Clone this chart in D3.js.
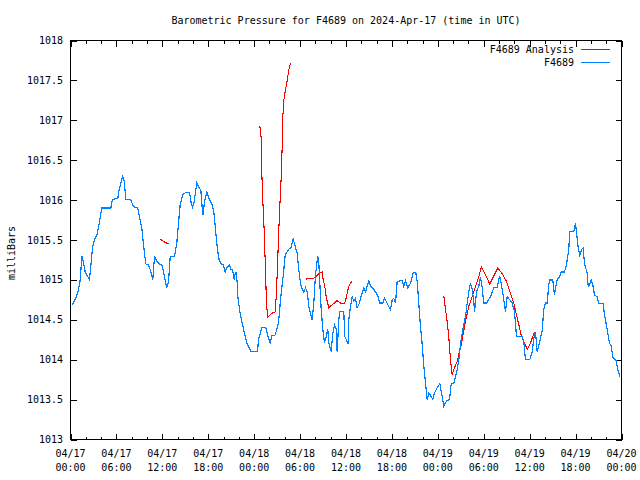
<!DOCTYPE html>
<html><head><meta charset="utf-8">
<script src="https://cdn.jsdelivr.net/npm/d3@7"></script>
<style>
body{margin:0;background:#fff}
svg{display:block}
text{font-family:"DejaVu Sans Mono",monospace;font-size:10px;fill:#000}
</style>
</head><body><svg width="640" height="480"></svg>
<script>
const title = "Barometric Pressure for F4689 on 2024-Apr-17 (time in UTC)";
const yLabel = "milliBars";
const seriesNames = ["F4689 Analysis", "F4689"];
const yTicks = [1013, 1013.5, 1014, 1014.5, 1015, 1015.5, 1016, 1016.5, 1017, 1017.5, 1018];
const xTickHours = [0, 6, 12, 18, 24, 30, 36, 42, 48, 54, 60, 66, 72];
const xTickDates = ["04/17","04/17","04/17","04/17","04/18","04/18","04/18","04/18","04/19","04/19","04/19","04/19","04/20"];
const xTickTimes = ["00:00","06:00","12:00","18:00","00:00","06:00","12:00","18:00","00:00","06:00","12:00","18:00","00:00"];

// [hours since 2024-04-17 00:00 UTC, pressure mb]
const station = [
[0.26,1014.69],[0.69,1014.77],[1.05,1014.88],[1.27,1015.00],[1.48,1015.30],[1.66,1015.23],[1.92,1015.10],[2.26,1015.04],[2.48,1015.00],[2.65,1015.17],
[2.87,1015.40],[3.14,1015.51],[3.44,1015.56],[3.75,1015.71],[4.09,1015.90],[5.27,1015.90],[5.49,1016.01],[6.18,1016.02],[6.36,1016.13],[6.62,1016.23],
[6.83,1016.30],[7.02,1016.23],[7.23,1016.01],[7.84,1016.01],[8.23,1015.92],[8.79,1015.90],[9.02,1015.79],[9.32,1015.65],[9.54,1015.44],[9.84,1015.20],
[10.19,1015.19],[10.41,1015.13],[10.75,1015.00],[10.98,1015.30],[11.28,1015.23],[11.59,1015.20],[11.93,1015.19],[12.15,1015.11],[12.37,1014.99],[12.58,1014.90],
[12.81,1014.98],[13.03,1015.29],[13.59,1015.30],[13.89,1015.46],[14.11,1015.71],[14.33,1015.94],[14.63,1016.06],[15.07,1016.10],[15.55,1016.10],[15.77,1015.96],
[15.94,1015.91],[16.16,1015.98],[16.50,1016.21],[16.82,1016.15],[17.03,1016.13],[17.16,1015.96],[17.29,1015.81],[17.51,1015.98],[17.81,1016.10],[18.03,1016.04],
[18.33,1015.97],[18.55,1015.94],[18.78,1015.81],[18.99,1015.58],[19.25,1015.35],[19.43,1015.25],[19.77,1015.19],[19.99,1015.19],[20.21,1015.10],[20.42,1015.15],
[20.78,1015.19],[20.95,1015.13],[21.17,1015.13],[21.39,1015.00],[21.52,1015.08],[21.65,1015.09],[21.78,1014.96],[21.86,1014.79],[22.17,1014.58],[22.61,1014.38],
[23.04,1014.21],[23.61,1014.10],[24.43,1014.10],[24.57,1014.25],[24.79,1014.33],[25.00,1014.40],[25.52,1014.40],[25.87,1014.27],[26.09,1014.21],[26.30,1014.30],
[26.75,1014.31],[27.18,1014.46],[27.48,1014.79],[27.83,1015.08],[28.05,1015.31],[28.49,1015.38],[28.84,1015.41],[29.10,1015.51],[29.31,1015.44],[29.62,1015.33],
[29.83,1015.13],[30.05,1014.96],[30.28,1014.88],[30.48,1014.85],[30.71,1014.90],[30.93,1014.85],[31.14,1014.67],[31.36,1014.58],[31.58,1014.50],[31.79,1014.71],
[32.01,1015.06],[32.31,1015.30],[32.44,1015.23],[32.58,1014.96],[32.76,1014.63],[32.97,1014.38],[33.19,1014.21],[33.41,1014.29],[33.62,1014.38],[33.75,1014.21],
[34.07,1014.10],[34.27,1014.33],[34.50,1014.44],[34.72,1014.38],[34.84,1014.10],[35.06,1014.50],[35.19,1014.60],[35.71,1014.60],[35.84,1014.29],[36.29,1014.20],
[36.36,1014.50],[36.59,1014.67],[36.81,1014.79],[37.02,1014.73],[37.24,1014.77],[37.46,1014.65],[37.76,1014.71],[38.02,1014.81],[38.33,1014.90],[38.55,1014.85],
[38.77,1014.92],[38.98,1014.99],[39.20,1014.92],[39.50,1014.90],[39.85,1014.85],[40.21,1014.79],[40.38,1014.71],[40.81,1014.71],[41.03,1014.77],[41.25,1014.73],
[41.46,1014.69],[41.81,1014.63],[42.04,1014.75],[42.24,1014.77],[42.47,1014.71],[42.69,1014.98],[43.12,1014.99],[43.34,1014.99],[43.55,1014.92],[43.77,1014.99],
[44.07,1014.90],[44.43,1014.96],[44.78,1015.09],[45.12,1015.09],[45.30,1014.98],[45.51,1014.71],[45.73,1014.42],[45.96,1014.19],[46.17,1013.92],[46.39,1013.71],
[46.61,1013.50],[46.82,1013.58],[47.13,1013.54],[47.34,1013.50],[47.56,1013.58],[47.92,1013.65],[48.26,1013.70],[48.44,1013.60],[48.57,1013.54],[48.78,1013.42],
[49.13,1013.48],[49.52,1013.50],[49.75,1013.70],[50.09,1013.71],[50.31,1013.79],[50.53,1013.88],[50.74,1014.00],[50.96,1014.19],[51.18,1014.33],[51.61,1014.54],
[51.84,1014.71],[52.05,1014.85],[52.27,1014.96],[52.49,1014.88],[52.70,1014.73],[52.79,1014.60],[53.05,1014.85],[53.35,1014.92],[53.57,1015.04],[53.80,1014.90],
[54.00,1014.71],[54.36,1014.71],[54.88,1014.79],[55.31,1014.90],[55.76,1014.90],[56.06,1015.05],[56.19,1015.00],[56.41,1014.88],[56.62,1014.75],[56.84,1014.60],
[57.06,1014.79],[57.40,1014.75],[57.72,1014.71],[58.02,1014.60],[58.28,1014.29],[59.02,1014.29],[59.23,1014.23],[59.45,1014.00],[60.02,1014.00],[60.33,1014.10],
[60.54,1014.27],[60.76,1014.35],[60.98,1014.10],[61.19,1014.17],[61.41,1014.27],[61.64,1014.36],[61.84,1014.63],[62.07,1014.71],[62.29,1014.71],[62.50,1014.94],
[62.63,1015.00],[63.02,1015.00],[63.24,1014.81],[63.41,1014.92],[63.60,1015.00],[63.90,1015.04],[64.12,1015.10],[64.55,1015.10],[64.81,1015.19],[65.11,1015.38],
[65.24,1015.61],[65.77,1015.61],[65.99,1015.71],[66.12,1015.60],[66.34,1015.40],[66.55,1015.31],[66.77,1015.38],[66.99,1015.40],[67.16,1015.21],[67.52,1015.08],
[67.65,1014.92],[67.82,1014.94],[68.04,1015.00],[68.25,1014.94],[68.47,1014.81],[68.82,1014.79],[69.03,1014.70],[69.61,1014.70],[69.78,1014.56],[70.13,1014.38],
[70.43,1014.21],[70.65,1014.17],[70.91,1014.02],[71.25,1014.00],[71.51,1013.88],[71.78,1013.79]
];

const analysis1 = [[11.72,1015.51],[12.37,1015.47],[12.90,1015.45]];
const analysis2 = [
[24.74,1016.93],[24.92,1016.78],[24.96,1016.48],[25.05,1016.19],[25.18,1015.88],[25.30,1015.63],[25.48,1015.13],[25.61,1014.69],[25.78,1014.53],
[26.30,1014.58],[26.75,1014.60],[26.88,1014.79],[27.05,1015.17],[27.18,1015.54],[27.35,1015.92],[27.53,1016.29],[27.66,1016.67],[27.74,1017.04],
[27.87,1017.25],[28.09,1017.38],[28.32,1017.50],[28.52,1017.63],[28.75,1017.72]
];
const analysis3 = [
[30.79,1015.01],[31.23,1015.02],[31.79,1015.02],[32.24,1015.06],[32.67,1015.09],[32.89,1015.10],[33.02,1015.00],[33.23,1014.92],[33.41,1014.79],
[33.75,1014.65],[34.20,1014.69],[34.85,1014.74],[35.28,1014.71],[35.80,1014.70],[36.06,1014.79],[36.36,1014.92],[36.81,1014.99]
];
const analysis4 = [
[48.78,1014.80],[49.00,1014.63],[49.22,1014.48],[49.43,1014.29],[49.65,1014.00],[49.88,1013.81],[50.09,1013.88],[50.53,1013.98],[50.96,1014.15],
[51.18,1014.25],[51.61,1014.48],[51.84,1014.58],[52.05,1014.67],[52.49,1014.79],[52.92,1014.92],[53.35,1015.04],[53.70,1015.16],[54.23,1015.06],
[54.79,1014.95],[55.31,1015.05],[55.83,1015.15],[56.41,1015.08],[56.97,1014.98],[57.49,1014.83],[57.93,1014.71],[58.28,1014.56],[58.58,1014.44],
[58.89,1014.31],[59.23,1014.23],[59.68,1014.13],[60.02,1014.19],[60.33,1014.27],[60.63,1014.35]
];

const colors = {analysis: "#ff0000", station: "#0080ff"};
const base = Date.UTC(2024, 3, 17);
const toDate = h => new Date(base + h * 3600e3);

const svg = d3.select("svg");
const L = 70.5, R = 621.5, T = 40.5, B = 439.5;
const x = d3.scaleUtc().domain([toDate(0), toDate(72)]).range([L, R]);
const y = d3.scaleLinear().domain([1013, 1018]).range([B, T]);

// border
svg.append("rect").attr("x", L).attr("y", T).attr("width", R - L).attr("height", B - T)
  .attr("fill", "none").attr("stroke", "#000").attr("stroke-width", 1);

const minorHours = d3.range(0, 73, 2).filter(h => h % 6 !== 0);
const majorDates = xTickHours.map(toDate);
const minorDates = minorHours.map(toDate);

function tickStyle(g){ g.select(".domain").remove(); g.selectAll("line").attr("stroke","#000").attr("shape-rendering","crispEdges"); }

// bottom axis
svg.append("g").attr("transform", `translate(0,${B})`)
  .call(d3.axisBottom(x).tickValues(majorDates).tickSize(-6).tickFormat(""))
  .call(tickStyle).selectAll("text").remove();
svg.append("g").attr("transform", `translate(0,${B})`)
  .call(d3.axisBottom(x).tickValues(minorDates).tickSize(-3).tickFormat(""))
  .call(tickStyle).selectAll("text").remove();
// top axis (mirror)
svg.append("g").attr("transform", `translate(0,${T})`)
  .call(d3.axisTop(x).tickValues(majorDates).tickSize(-6).tickFormat(""))
  .call(tickStyle).selectAll("text").remove();
svg.append("g").attr("transform", `translate(0,${T})`)
  .call(d3.axisTop(x).tickValues(minorDates).tickSize(-3).tickFormat(""))
  .call(tickStyle).selectAll("text").remove();
// left / right
svg.append("g").attr("transform", `translate(${L},0)`)
  .call(d3.axisLeft(y).tickValues(yTicks).tickSize(-6).tickFormat(""))
  .call(tickStyle).selectAll("text").remove();
svg.append("g").attr("transform", `translate(${R},0)`)
  .call(d3.axisRight(y).tickValues(yTicks).tickSize(-6).tickFormat(""))
  .call(tickStyle).selectAll("text").remove();

// y tick labels
svg.append("g").selectAll("text").data(yTicks).join("text")
  .attr("x", 63).attr("y", d => y(d)).attr("dy", "0.35em")
  .attr("text-anchor", "end").text(d => String(d));

// x tick labels
const xl = svg.append("g").selectAll("g").data(xTickHours).join("g")
  .attr("transform", (d) => `translate(${x(toDate(d))},0)`);
xl.append("text").attr("y", 456.5).attr("text-anchor", "middle").text((d, i) => xTickDates[i]);
xl.append("text").attr("y", 470.5).attr("text-anchor", "middle").text((d, i) => xTickTimes[i]);

// title and y label
svg.append("text").attr("x", (L + R) / 2).attr("y", 23.5).attr("text-anchor", "middle").text(title);
svg.append("text").attr("transform", "translate(15,253) rotate(-90)").attr("text-anchor", "middle").text(yLabel);

// lines
const line = d3.line().x(d => x(toDate(d[0]))).y(d => y(d[1]));
const plot = svg.append("g");
[analysis1, analysis2, analysis3, analysis4].forEach(seg => {
  plot.append("path").datum(seg).attr("d", line).attr("fill", "none")
    .attr("stroke", colors.analysis).attr("stroke-width", 1.1)
    .attr("shape-rendering", "crispEdges");
});
plot.append("path").datum(station).attr("d", line).attr("fill", "none")
  .attr("stroke", colors.station).attr("stroke-width", 1.2)
  .attr("shape-rendering", "crispEdges");

// legend
const leg = svg.append("g");
[[seriesNames[0], colors.analysis, 49.5], [seriesNames[1], colors.station, 62.5]].forEach(([name, c, yy]) => {
  leg.append("text").attr("x", 574).attr("y", yy).attr("dy", "0.35em").attr("text-anchor", "end").text(name);
  leg.append("line").attr("x1", 581).attr("x2", 610).attr("y1", yy).attr("y2", yy)
    .attr("stroke", c).attr("stroke-width", 1).attr("shape-rendering", "crispEdges");
});
</script>
</body></html>
